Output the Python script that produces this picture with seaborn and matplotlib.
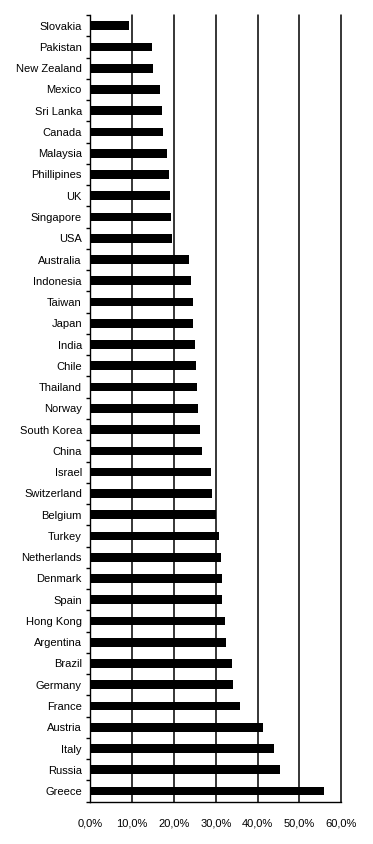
import numpy as np
import pandas as pd
import seaborn as sns
import matplotlib
matplotlib.use('Agg')
import matplotlib.pyplot as plt
from matplotlib.ticker import FuncFormatter, FixedLocator

countries = ['Slovakia', 'Pakistan', 'New Zealand', 'Mexico', 'Sri Lanka', 'Canada',
             'Malaysia', 'Phillipines', 'UK', 'Singapore', 'USA', 'Australia',
             'Indonesia', 'Taiwan', 'Japan', 'India', 'Chile', 'Thailand', 'Norway',
             'South Korea', 'China', 'Israel', 'Switzerland', 'Belgium', 'Turkey',
             'Netherlands', 'Denmark', 'Spain', 'Hong Kong', 'Argentina', 'Brazil',
             'Germany', 'France', 'Austria', 'Italy', 'Russia', 'Greece']
values = [9.2, 14.7, 15.0, 16.6, 17.1, 17.4,
          18.3, 18.8, 19.0, 19.3, 19.5, 23.6,
          24.1, 24.5, 24.5, 25.0, 25.3, 25.5, 25.7,
          26.2, 26.7, 28.8, 29.1, 30.0, 30.8,
          31.2, 31.5, 31.5, 32.2, 32.4, 33.9,
          34.1, 35.8, 41.3, 43.9, 45.3, 55.9]
xticks = [0, 10, 20, 30, 40, 50, 60]

sns.set_style('white')
plt.rcParams['font.family'] = ['Liberation Sans', 'DejaVu Sans']
plt.rcParams['text.color'] = 'black'
plt.rcParams['xtick.color'] = 'black'
plt.rcParams['ytick.color'] = 'black'

df = pd.DataFrame({'country': countries, 'value': values})

fig = plt.figure(figsize=(3.73, 8.44), dpi=100)
ax = fig.add_axes([90.3 / 373, 1 - 801.7 / 844, 251 / 373, 786.7 / 844])
sns.barplot(data=df, x='value', y='country', orient='h', color='black',
            width=0.41, saturation=1, linewidth=0, ax=ax)
for p in ax.patches:
    p.set_zorder(3)

ax.set_xlim(0, 60)
ax.set_ylim(len(countries) - 0.5, -0.5)
ax.set_xticks(xticks)
ax.xaxis.set_major_formatter(FuncFormatter(lambda v, p: f'{v:.1f}%'.replace('.', ',')))
for x in xticks[1:]:
    ax.axvline(x, color='black', lw=1.1, zorder=1, clip_on=False)

ax.set_xlabel('')
ax.set_ylabel('')
for s in ['top', 'right']:
    ax.spines[s].set_visible(False)
for s in ['left', 'bottom']:
    ax.spines[s].set_color('black')
    ax.spines[s].set_linewidth(1)

ax.tick_params(axis='x', direction='out', length=4, width=1, color='black',
               labelsize=8, pad=8)
ax.tick_params(axis='y', which='major', length=0, labelsize=8, pad=6)
ax.yaxis.set_minor_locator(FixedLocator(np.arange(-0.5, len(countries), 1)))
ax.tick_params(axis='y', which='minor', direction='out', length=3, width=1,
               color='black', left=True)

fig.savefig('out.png', dpi=100)
